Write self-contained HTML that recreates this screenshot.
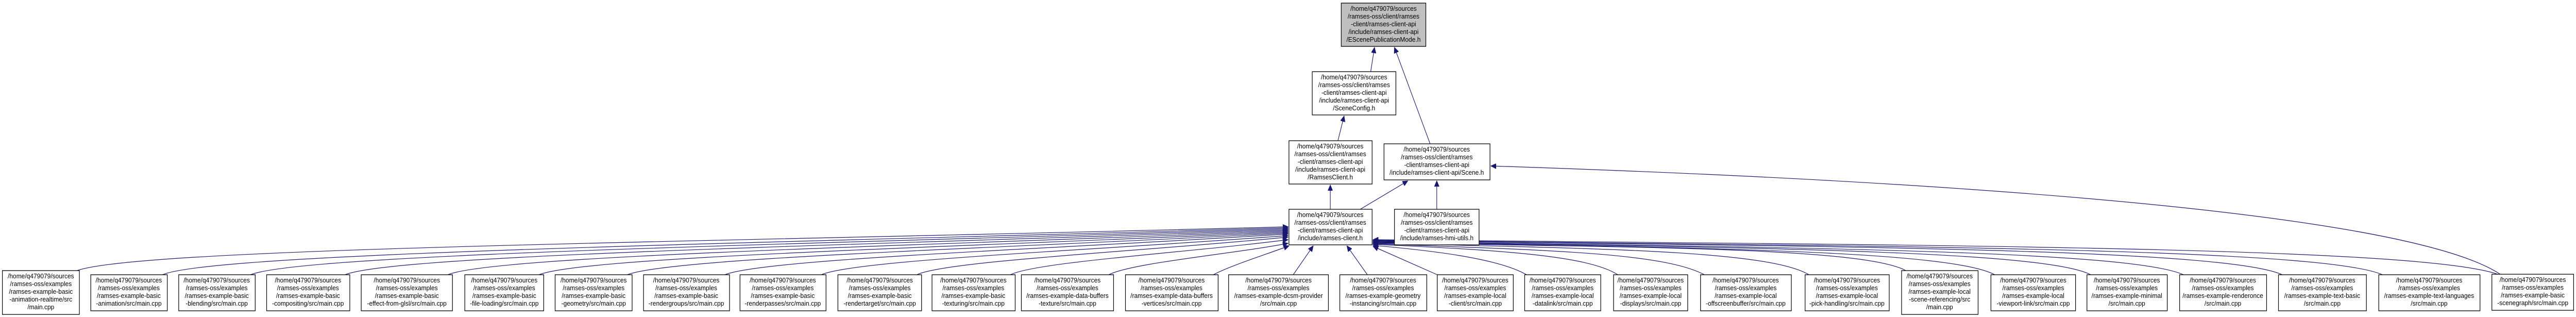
<!DOCTYPE html>
<html><head><meta charset="utf-8"><style>
html,body{margin:0;padding:0;background:#fff;width:100%;height:100%;overflow:hidden;}
svg{display:block;width:100vw;height:100vh}
text{font-family:"Liberation Sans",sans-serif;font-size:13px;fill:#000;text-anchor:middle}
rect{fill:#fff;stroke:#000;stroke-width:1.3}
path.e{fill:none;stroke:#191970;stroke-width:1.2}
</style></head><body>
<svg viewBox="0 0 5420 615" preserveAspectRatio="none" xmlns="http://www.w3.org/2000/svg">
<defs><marker id="a" markerUnits="userSpaceOnUse" markerWidth="12" markerHeight="10" refX="11" refY="5" orient="auto"><path d="M0,0 L11,5 L0,10 z" fill="#191970" stroke="#191970"/></marker></defs>

<path class="e" marker-end="url(#a)" d="M2884,139 L2892,92"/>
<path class="e" marker-end="url(#a)" d="M3009,279 L2934,92"/>
<path class="e" marker-end="url(#a)" d="M2815,273 L2828,225"/>
<path class="e" marker-end="url(#a)" d="M2799,406 L2799,359"/>
<path class="e" marker-end="url(#a)" d="M2862,406 L2962,351"/>
<path class="e" marker-end="url(#a)" d="M3023,406 L3023,351"/>
<path class="e" marker-end="url(#a)" d="M5262,533 C5050,400 3900,345 3137,322"/>

<path class="e" marker-end="url(#a)" d="M162,525 C300,480 1500,470 2710,440"/>
<path class="e" marker-end="url(#a)" d="M342,533 C450,490 1600,472 2710,442"/>
<path class="e" marker-end="url(#a)" d="M527,533 C640,492 1700,474 2710,444"/>
<path class="e" marker-end="url(#a)" d="M726,533 C830,494 1800,476 2710,446"/>
<path class="e" marker-end="url(#a)" d="M942,533 C1040,496 1900,478 2710,448"/>
<path class="e" marker-end="url(#a)" d="M1134,533 C1230,498 2000,480 2710,450"/>
<path class="e" marker-end="url(#a)" d="M1320,533 C1410,500 2100,482 2710,452"/>
<path class="e" marker-end="url(#a)" d="M1525,533 C1610,502 2200,484 2710,454"/>
<path class="e" marker-end="url(#a)" d="M1728,533 C1800,504 2300,486 2710,457"/>
<path class="e" marker-end="url(#a)" d="M1929,533 C1990,506 2400,488 2710,460"/>
<path class="e" marker-end="url(#a)" d="M2126,533 C2180,508 2500,490 2710,465"/>
<path class="e" marker-end="url(#a)" d="M2333,533 C2380,510 2600,492 2710,472"/>
<path class="e" marker-end="url(#a)" d="M2553,533 C2590,515 2660,495 2712,477"/>
<path class="e" marker-end="url(#a)" d="M2721,533 L2763,477"/>
<path class="e" marker-end="url(#a)" d="M2877,533 L2834,477"/>
<path class="e" marker-end="url(#a)" d="M3024,533 L2889,478"/>
<path class="e" marker-end="url(#a)" d="M3212,533 C3150,500 3000,485 2889,476"/>
<path class="e" marker-end="url(#a)" d="M3404,533 C3340,495 3150,485 2889,474"/>
<path class="e" marker-end="url(#a)" d="M3586,533 C3500,490 3250,485 2889,473"/>
<path class="e" marker-end="url(#a)" d="M3806,533 C3720,485 3350,482 2889,472"/>
<path class="e" marker-end="url(#a)" d="M4010,525 C3920,480 3450,480 2889,471"/>
<path class="e" marker-end="url(#a)" d="M4197,533 C4100,485 3550,480 2889,470"/>
<path class="e" marker-end="url(#a)" d="M4399,533 C4300,485 3650,480 2889,469"/>
<path class="e" marker-end="url(#a)" d="M4594,533 C4480,485 3750,480 2889,468"/>
<path class="e" marker-end="url(#a)" d="M4802,533 C4680,482 3850,478 2889,467"/>
<path class="e" marker-end="url(#a)" d="M5013,533 C4880,480 3950,478 2889,466"/>
<path class="e" marker-end="url(#a)" d="M5258,533 C5100,478 4050,476 2889,465"/>

<rect x="2822" y="6" width="178" height="84" style="fill:#bfbfbf"/>
<text x="2911" y="21">/home/q479079/sources</text><text x="2911" y="36">/ramses-oss/client/ramses</text><text x="2911" y="51">-client/ramses-client-api</text><text x="2911" y="66">/include/ramses-client-api</text><text x="2911" y="81">/EScenePublicationMode.h</text>

<rect x="2761" y="139" width="176" height="84"/>
<text x="2849" y="154">/home/q479079/sources</text><text x="2849" y="169">/ramses-oss/client/ramses</text><text x="2849" y="184">-client/ramses-client-api</text><text x="2849" y="199">/include/ramses-client-api</text><text x="2849" y="214">/SceneConfig.h</text>

<rect x="2712" y="273" width="175" height="84"/>
<text x="2799" y="288">/home/q479079/sources</text><text x="2799" y="303">/ramses-oss/client/ramses</text><text x="2799" y="318">-client/ramses-client-api</text><text x="2799" y="333">/include/ramses-client-api</text><text x="2799" y="348">/RamsesClient.h</text>

<rect x="2912" y="279" width="223" height="70"/>
<text x="3023" y="294">/home/q479079/sources</text><text x="3023" y="309">/ramses-oss/client/ramses</text><text x="3023" y="324">-client/ramses-client-api</text><text x="3023" y="339">/include/ramses-client-api/Scene.h</text>

<rect x="2712" y="406" width="175" height="69"/>
<text x="2799" y="421">/home/q479079/sources</text><text x="2799" y="436">/ramses-oss/client/ramses</text><text x="2799" y="451">-client/ramses-client-api</text><text x="2799" y="466">/include/ramses-client.h</text>

<rect x="2934" y="406" width="178" height="69"/>
<text x="3023" y="421">/home/q479079/sources</text><text x="3023" y="436">/ramses-oss/client/ramses</text><text x="3023" y="451">-client/ramses-client-api</text><text x="3023" y="466">/include/ramses-hmi-utils.h</text>

<rect x="5" y="525" width="162" height="85"/>
<text x="86" y="540">/home/q479079/sources</text><text x="86" y="555">/ramses-oss/examples</text><text x="86" y="570">/ramses-example-basic</text><text x="86" y="585">-animation-realtime/src</text><text x="86" y="600">/main.cpp</text>

<rect x="191" y="533" width="161" height="70"/>
<text x="271" y="548">/home/q479079/sources</text><text x="271" y="563">/ramses-oss/examples</text><text x="271" y="578">/ramses-example-basic</text><text x="271" y="593">-animation/src/main.cpp</text>

<rect x="376" y="533" width="161" height="70"/>
<text x="456" y="548">/home/q479079/sources</text><text x="456" y="563">/ramses-oss/examples</text><text x="456" y="578">/ramses-example-basic</text><text x="456" y="593">-blending/src/main.cpp</text>

<rect x="561" y="533" width="175" height="70"/>
<text x="648" y="548">/home/q479079/sources</text><text x="648" y="563">/ramses-oss/examples</text><text x="648" y="578">/ramses-example-basic</text><text x="648" y="593">-compositing/src/main.cpp</text>

<rect x="760" y="533" width="192" height="70"/>
<text x="856" y="548">/home/q479079/sources</text><text x="856" y="563">/ramses-oss/examples</text><text x="856" y="578">/ramses-example-basic</text><text x="856" y="593">-effect-from-glsl/src/main.cpp</text>

<rect x="978" y="533" width="166" height="70"/>
<text x="1061" y="548">/home/q479079/sources</text><text x="1061" y="563">/ramses-oss/examples</text><text x="1061" y="578">/ramses-example-basic</text><text x="1061" y="593">-file-loading/src/main.cpp</text>

<rect x="1168" y="533" width="162" height="70"/>
<text x="1249" y="548">/home/q479079/sources</text><text x="1249" y="563">/ramses-oss/examples</text><text x="1249" y="578">/ramses-example-basic</text><text x="1249" y="593">-geometry/src/main.cpp</text>

<rect x="1354" y="533" width="181" height="70"/>
<text x="1444" y="548">/home/q479079/sources</text><text x="1444" y="563">/ramses-oss/examples</text><text x="1444" y="578">/ramses-example-basic</text><text x="1444" y="593">-rendergroups/src/main.cpp</text>

<rect x="1557" y="533" width="181" height="70"/>
<text x="1647" y="548">/home/q479079/sources</text><text x="1647" y="563">/ramses-oss/examples</text><text x="1647" y="578">/ramses-example-basic</text><text x="1647" y="593">-renderpasses/src/main.cpp</text>

<rect x="1763" y="533" width="176" height="70"/>
<text x="1851" y="548">/home/q479079/sources</text><text x="1851" y="563">/ramses-oss/examples</text><text x="1851" y="578">/ramses-example-basic</text><text x="1851" y="593">-rendertarget/src/main.cpp</text>

<rect x="1961" y="533" width="175" height="70"/>
<text x="2048" y="548">/home/q479079/sources</text><text x="2048" y="563">/ramses-oss/examples</text><text x="2048" y="578">/ramses-example-basic</text><text x="2048" y="593">-texturing/src/main.cpp</text>

<rect x="2149" y="533" width="194" height="70"/>
<text x="2246" y="548">/home/q479079/sources</text><text x="2246" y="563">/ramses-oss/examples</text><text x="2246" y="578">/ramses-example-data-buffers</text><text x="2246" y="593">-texture/src/main.cpp</text>

<rect x="2368" y="533" width="195" height="70"/>
<text x="2465" y="548">/home/q479079/sources</text><text x="2465" y="563">/ramses-oss/examples</text><text x="2465" y="578">/ramses-example-data-buffers</text><text x="2465" y="593">-vertices/src/main.cpp</text>

<rect x="2585" y="533" width="210" height="70"/>
<text x="2690" y="548">/home/q479079/sources</text><text x="2690" y="563">/ramses-oss/examples</text><text x="2690" y="578">/ramses-example-dcsm-provider</text><text x="2690" y="593">/src/main.cpp</text>

<rect x="2819" y="533" width="183" height="70"/>
<text x="2910" y="548">/home/q479079/sources</text><text x="2910" y="563">/ramses-oss/examples</text><text x="2910" y="578">/ramses-example-geometry</text><text x="2910" y="593">-instancing/src/main.cpp</text>

<rect x="3024" y="533" width="160" height="70"/>
<text x="3104" y="548">/home/q479079/sources</text><text x="3104" y="563">/ramses-oss/examples</text><text x="3104" y="578">/ramses-example-local</text><text x="3104" y="593">-client/src/main.cpp</text>

<rect x="3208" y="533" width="160" height="70"/>
<text x="3288" y="548">/home/q479079/sources</text><text x="3288" y="563">/ramses-oss/examples</text><text x="3288" y="578">/ramses-example-local</text><text x="3288" y="593">-datalink/src/main.cpp</text>

<rect x="3395" y="533" width="156" height="70"/>
<text x="3473" y="548">/home/q479079/sources</text><text x="3473" y="563">/ramses-oss/examples</text><text x="3473" y="578">/ramses-example-local</text><text x="3473" y="593">-displays/src/main.cpp</text>

<rect x="3578" y="533" width="191" height="70"/>
<text x="3673" y="548">/home/q479079/sources</text><text x="3673" y="563">/ramses-oss/examples</text><text x="3673" y="578">/ramses-example-local</text><text x="3673" y="593">-offscreenbuffer/src/main.cpp</text>

<rect x="3798" y="533" width="177" height="70"/>
<text x="3886" y="548">/home/q479079/sources</text><text x="3886" y="563">/ramses-oss/examples</text><text x="3886" y="578">/ramses-example-local</text><text x="3886" y="593">-pick-handling/src/main.cpp</text>

<rect x="4001" y="525" width="161" height="85"/>
<text x="4081" y="540">/home/q479079/sources</text><text x="4081" y="555">/ramses-oss/examples</text><text x="4081" y="570">/ramses-example-local</text><text x="4081" y="585">-scene-referencing/src</text><text x="4081" y="600">/main.cpp</text>

<rect x="4189" y="533" width="178" height="70"/>
<text x="4278" y="548">/home/q479079/sources</text><text x="4278" y="563">/ramses-oss/examples</text><text x="4278" y="578">/ramses-example-local</text><text x="4278" y="593">-viewport-link/src/main.cpp</text>

<rect x="4391" y="533" width="169" height="70"/>
<text x="4475" y="548">/home/q479079/sources</text><text x="4475" y="563">/ramses-oss/examples</text><text x="4475" y="578">/ramses-example-minimal</text><text x="4475" y="593">/src/main.cpp</text>

<rect x="4586" y="533" width="183" height="70"/>
<text x="4677" y="548">/home/q479079/sources</text><text x="4677" y="563">/ramses-oss/examples</text><text x="4677" y="578">/ramses-example-renderonce</text><text x="4677" y="593">/src/main.cpp</text>

<rect x="4794" y="533" width="185" height="70"/>
<text x="4886" y="548">/home/q479079/sources</text><text x="4886" y="563">/ramses-oss/examples</text><text x="4886" y="578">/ramses-example-text-basic</text><text x="4886" y="593">/src/main.cpp</text>

<rect x="5005" y="533" width="213" height="70"/>
<text x="5111" y="548">/home/q479079/sources</text><text x="5111" y="563">/ramses-oss/examples</text><text x="5111" y="578">/ramses-example-text-languages</text><text x="5111" y="593">/src/main.cpp</text>

<rect x="5243" y="532" width="172" height="70"/>
<text x="5329" y="547">/home/q479079/sources</text><text x="5329" y="562">/ramses-oss/examples</text><text x="5329" y="577">/ramses-example-basic</text><text x="5329" y="592">-scenegraph/src/main.cpp</text>
</svg>
</body></html>
